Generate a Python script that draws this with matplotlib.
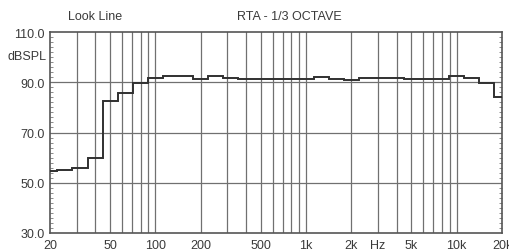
import numpy as np
import matplotlib
matplotlib.use("Agg")
import matplotlib.pyplot as plt

plt.rcParams['font.family'] = ['Liberation Sans', 'DejaVu Sans']

# 1/3 octave band index k -> centre 10^(k/10) Hz, 20 Hz .. 20 kHz
band_index = list(range(13, 44))
band_level = [54.6, 55.1, 55.7, 59.9, 82.4, 85.7, 89.7, 91.6, 92.3, 92.3,
              91.4, 92.4, 91.6, 91.3, 91.2, 91.3, 91.4, 91.4, 91.9, 91.3,
              90.9, 91.6, 91.6, 91.5, 91.1, 91.1, 91.1, 92.4, 91.7, 89.6,
              84.3]

grid_freqs = [30, 40, 50, 60, 70, 80, 90, 100, 200, 300, 400, 500, 600, 700,
              800, 900, 1000, 2000, 3000, 4000, 5000, 6000, 7000, 8000, 9000,
              10000]
tick_freqs = [20, 50, 100, 200, 500, 1000, 2000, 3000, 5000, 10000, 20000]
tick_labels = ['20', '50', '100', '200', '500', '1k', '2k', 'Hz', '5k', '10k', '20k']
y_ticks = [30, 50, 70, 90, 110]

edges = 10 ** ((np.array(band_index + [band_index[-1] + 1]) - 0.5) / 10)

fig = plt.figure(figsize=(5.09, 2.53), dpi=100)
ax = fig.add_axes([50 / 509, 19 / 253, 452 / 509, 201 / 253])

ax.set_xscale('log')
ax.set_xlim(20, 20000)
ax.set_ylim(30, 110)

for f in grid_freqs:
    ax.axvline(f, color='#707070', lw=0.9, zorder=1)
for v in [50, 70, 90]:
    ax.axhline(v, color='#707070', lw=0.9, zorder=1)

ax.stairs(band_level, edges, color='#303030', lw=1.4, zorder=3)

ax.xaxis.set_major_locator(plt.FixedLocator(tick_freqs))
ax.xaxis.set_minor_locator(plt.NullLocator())
ax.set_xticks(tick_freqs)
ax.set_xticklabels(tick_labels)
ax.set_yticks(y_ticks)
ax.set_yticklabels(['%.1f' % v for v in y_ticks])
ax.set_yticks(np.arange(30, 111, 2), minor=True)
ax.tick_params(axis='x', length=0, pad=4.5, labelsize=9, colors='#3a3a3a')
ax.tick_params(axis='y', which='major', length=0, pad=4, labelsize=9,
               colors='#3a3a3a')
ax.tick_params(axis='y', which='minor', direction='in', length=2.5,
               color='#777777', right=True)

for s in ax.spines.values():
    s.set_color('#555555')
    s.set_linewidth(1.2)

fig.text(95 / 509, 1 - 17 / 253, 'Look Line', ha='center', va='center',
         fontsize=9, color='#3a3a3a')
fig.text(289 / 509, 1 - 17 / 253, 'RTA - 1/3 OCTAVE', ha='center', va='center',
         fontsize=9, color='#3a3a3a')
fig.text(47 / 509, 1 - 57 / 253, 'dBSPL', ha='right', va='center',
         fontsize=9, color='#3a3a3a')

fig.savefig('out.png', dpi=100)
